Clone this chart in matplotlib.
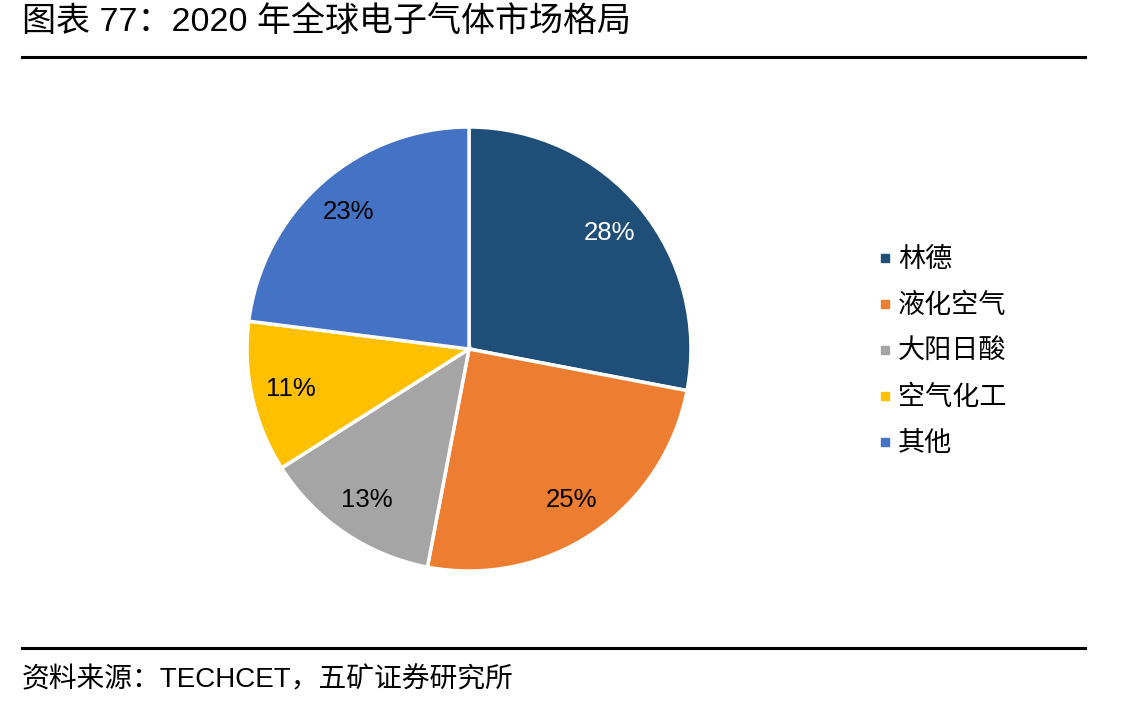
import matplotlib.pyplot as plt
from matplotlib.lines import Line2D

plt.rcParams['font.family'] = ['Liberation Sans', 'Noto Sans CJK SC', 'DejaVu Sans']

companies = ["林德", "液化空气", "大阳日酸", "空气化工", "其他"]
shares = [28, 25, 13, 11, 23]
colors = ["#1F4E79", "#ED7D31", "#A5A5A5", "#FFC000", "#4472C4"]
pct_colors = ["white", "black", "black", "black", "black"]

W, H = 1144, 707
fig = plt.figure(figsize=(W / 100, H / 100), dpi=100)

# pie centre (469, 349) px, radius 222 px
cx, cy, r = 469, 349, 222
ax = fig.add_axes([(cx - r) / W, (H - cy - r) / H, 2 * r / W, 2 * r / H])
wedges, texts, autotexts = ax.pie(
    shares, colors=colors, startangle=90, counterclock=False,
    autopct="%d%%", pctdistance=0.82,
    wedgeprops=dict(edgecolor="white", linewidth=2.5),
    textprops=dict(fontsize=18.5))
for t, c in zip(autotexts, pct_colors):
    t.set_color(c)
ax.set_xlim(-1, 1)
ax.set_ylim(-1, 1)
ax.set_aspect("equal")

handles = [Line2D([], [], marker="s", linestyle="", markersize=6,
                  markerfacecolor=c, markeredgecolor=c) for c in colors]
fig.legend(handles, companies, loc="upper left",
           bbox_to_anchor=(880 / W, 1 - 247 / H), frameon=False,
           fontsize=19.5, handlelength=0.4, handletextpad=0.27,
           labelspacing=0.74, borderaxespad=0, borderpad=0)

# title, rules and source
fig.text(22 / W, 1 - 22 / H, "图表 77：2020 年全球电子气体市场格局",
         fontsize=24.5, va="center", ha="left")
fig.add_artist(Line2D([22 / W, 1085 / W], [1 - 57 / H] * 2, color="black", linewidth=2.2))
fig.add_artist(Line2D([22 / W, 1085 / W], [1 - 648 / H] * 2, color="black", linewidth=2.2))
fig.text(22 / W, 1 - 680 / H, "资料来源：TECHCET，五矿证券研究所",
         fontsize=20, va="center", ha="left")

fig.savefig("out.png", dpi=100)
